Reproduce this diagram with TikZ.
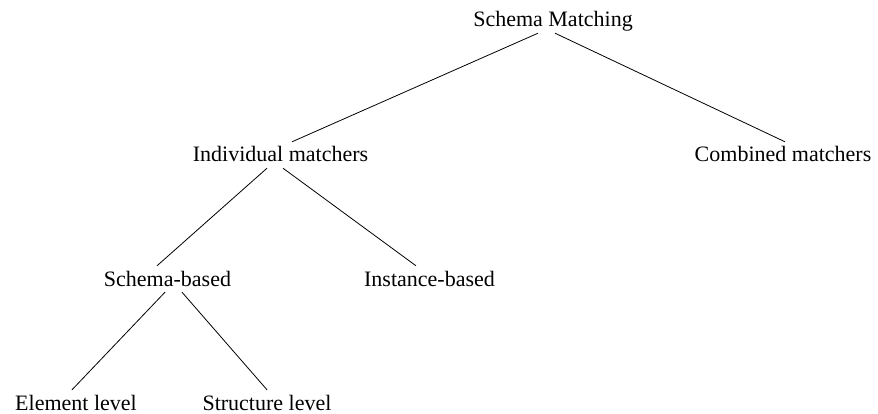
\documentclass[tikz,border=0pt]{standalone}
\usepackage{fontspec}
\setmainfont{Liberation Serif}
\begin{document}
\begin{tikzpicture}[x=1pt, y=-1pt,
  label/.style={font=\fontsize{22}{26}\selectfont, inner sep=1pt,
    text height=19pt, text depth=5pt, anchor=base},
  branch/.style={draw=black, line width=0.8pt}]
\useasboundingbox (0,0) rectangle (878,414);
% tree labels, placed by baseline
\node[label] (root)   at (553,27)    {Schema Matching};
\node[label] (indiv)  at (280.5,162) {Individual matchers};
\node[label] (comb)   at (783,162)   {Combined matchers};
\node[label] (schema) at (167.5,286) {Schema-based};
\node[label] (inst)   at (429.5,286) {Instance-based};
\node[label] (elem)   at (76,410)    {Element level};
\node[label] (struct) at (267,410)   {Structure level};
% branches
\draw[branch] ([xshift=-15pt]root.south)   -- ([xshift=11.5pt]indiv.north);
\draw[branch] ([xshift=2pt]root.south)     -- ([xshift=2pt]comb.north);
\draw[branch] ([xshift=-13.5pt]indiv.south) -- ([xshift=-10.5pt]schema.north);
\draw[branch] ([xshift=2.5pt]indiv.south)  -- ([xshift=-13.5pt]inst.north);
\draw[branch] ([xshift=-2.5pt]schema.south) -- ([xshift=-4pt]elem.north);
\draw[branch] ([xshift=14.5pt]schema.south) -- (struct.north);
\end{tikzpicture}
\end{document}
